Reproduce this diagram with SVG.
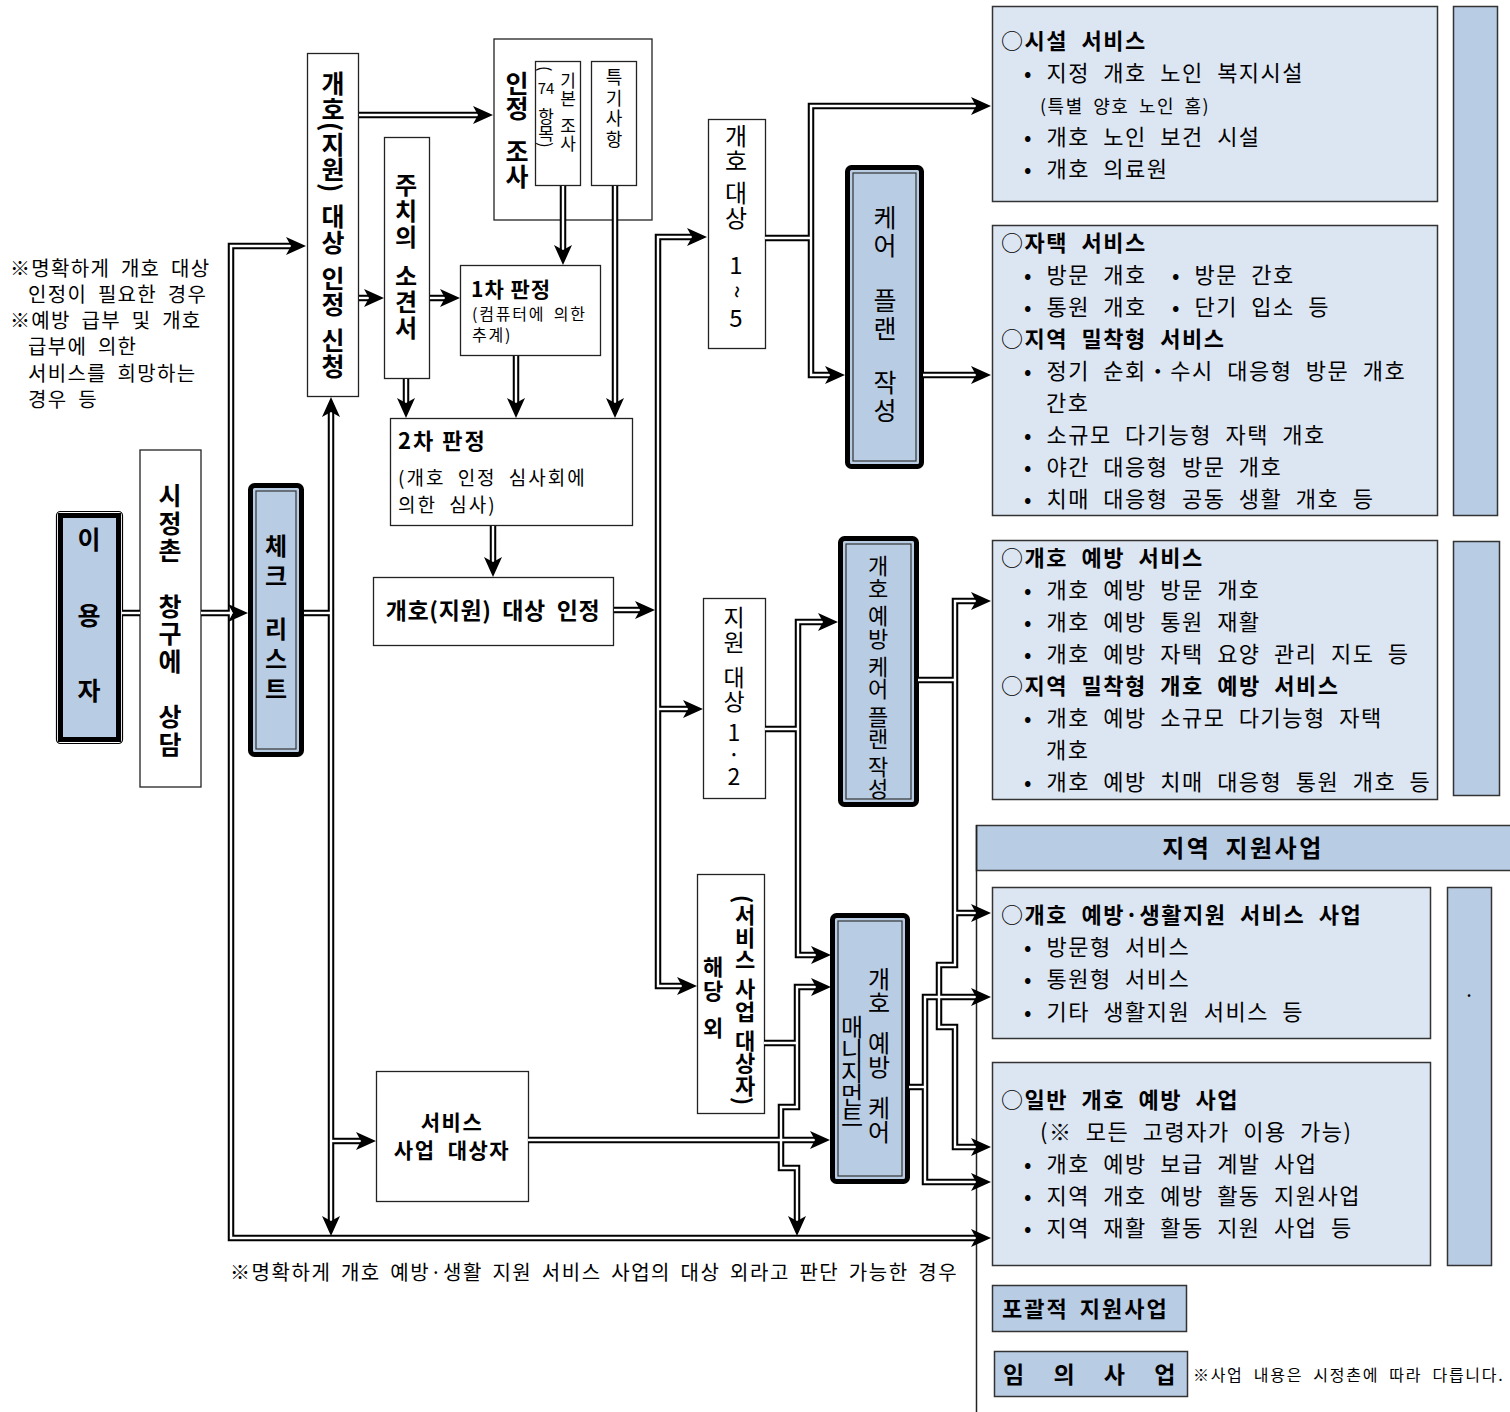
<svg xmlns="http://www.w3.org/2000/svg" width="1510" height="1412" viewBox="0 0 1510 1412">
<style>
text{font-family:"Noto Sans CJK KR","Noto Sans CJK SC",sans-serif;fill:#000}
.b{font-weight:bold}
.v{writing-mode:vertical-rl}
.up{writing-mode:vertical-rl;text-orientation:upright}
.box{fill:#fff;stroke:#222;stroke-width:1.3}
.lb{fill:#dce6f2;stroke:#333;stroke-width:1.5}
.db{fill:#b8cce4;stroke:#333;stroke-width:1.5}
.tb{fill:#b8cce4;stroke:#000;stroke-width:5}
.tbi{fill:none;stroke:#333;stroke-width:1.2}
.blk{fill:none;stroke:#000;stroke-width:6.5;stroke-linejoin:miter}
.wht{fill:none;stroke:#fff;stroke-width:2.4;stroke-linejoin:miter}
.r{font-size:22px;word-spacing:7px;letter-spacing:1.5px}
.n{font-size:20px;word-spacing:5px;letter-spacing:1.3px}
.ah{fill:#000}
</style>
<defs>
<path id="ah" d="M-20,-9 L0,0 L-20,9 L-15,0 Z"/>
<path id="p1" d="M292,246 L231,246 L231,1238 L978,1238"/>
<path id="p2" d="M122,613 L140,613"/>
<path id="p3" d="M201,613 L235,613"/>
<path id="p4" d="M304,613 L331,613"/>
<path id="p5" d="M331,410 L331,1223"/>
<path id="p6" d="M331,1141 L363,1141"/>
<path id="p7" d="M528,1140 L817,1140"/>
<path id="p8" d="M359,115 L480,115"/>
<path id="p9" d="M359,298 L371,298"/>
<path id="p10" d="M430,298 L447,298"/>
<path id="p11" d="M563,186 L563,252"/>
<path id="p12" d="M615,186 L615,405"/>
<path id="p13" d="M406,379 L406,405"/>
<path id="p14" d="M516,356 L516,405"/>
<path id="p15" d="M493,526 L493,564"/>
<path id="p16" d="M614,610 L642,610"/>
<path id="p17" d="M694,237 L658,237 L658,986 L684,986"/>
<path id="p18" d="M658,709 L690,709"/>
<path id="p19" d="M765,238 L811,238"/>
<path id="p20" d="M978,106 L811,106 L811,375 L832,375"/>
<path id="p21" d="M923,375 L978,375"/>
<path id="p22" d="M765,729 L798,729"/>
<path id="p23" d="M825,622 L798,622 L798,955 L818,955"/>
<path id="p24" d="M918,680 L955,680"/>
<path id="p25" d="M978,601 L955,601 L955,965 L939,965 L939,1027 L955,1027 L955,1147 L978,1147"/>
<path id="p26" d="M955,913 L978,913"/>
<path id="p27" d="M764,1043 L797,1043"/>
<path id="p28" d="M818,987 L797,987 L797,1107 L781,1107 L781,1168 L797,1168 L797,1223"/>
<path id="p29" d="M909,1087 L925,1087"/>
<path id="p30" d="M978,997 L925,997 L925,1182 L978,1182"/>
</defs>

<g id="user">
<rect x="56.5" y="511.5" width="66" height="232" rx="4" fill="none" stroke="#000" stroke-width="1.2"/>
<rect x="60.5" y="515.5" width="58" height="224" class="tb"/>
<text class="v b" x="89" y="527" style="font-size:25px;word-spacing:45px">이 용 자</text>
</g>
<g id="window">
<rect x="140" y="450" width="61" height="337" class="box"/>
<text class="v b" x="170" y="483" style="font-size:25px;letter-spacing:2.5px;word-spacing:20px">시정촌 창구에 상담</text>
</g>
<g id="checklist">
<rect x="250.5" y="485.5" width="51" height="269" rx="4" class="tb"/>
<rect x="256" y="491" width="40" height="258" class="tbi"/>
<text class="v b" x="276" y="534" style="font-size:24px;letter-spacing:6px;word-spacing:11.6px">체크 리스트</text>
</g>
<g id="apply">
<rect x="307.5" y="53.5" width="51" height="343" class="box"/>
<text class="v b" x="333" y="71" style="font-size:25px;letter-spacing:0.5px;word-spacing:5px">개호(지원) 대상 인정 신청</text>
</g>
<g id="survey">
<rect x="494" y="39" width="158" height="181" class="box"/>
<text class="v b" x="517" y="71" style="font-size:25px;word-spacing:12px">인정 조사</text>
<rect x="535.5" y="61.5" width="45" height="124" class="box"/>
<text class="v" x="568" y="72" style="font-size:17px;letter-spacing:1px;word-spacing:4px">기본 조사</text>
<text class="v" x="546" y="66" style="font-size:16px">(</text>
<text x="546" y="94" text-anchor="middle" style="font-size:15px">74</text>
<text class="v" x="546" y="108" style="font-size:17px">항목)</text>
<rect x="591.5" y="61.5" width="45" height="124" class="box"/>
<text class="v" x="614" y="68" style="font-size:18px;letter-spacing:2.7px">특기사항</text>
</g>
<g id="doctor">
<rect x="384.5" y="137.5" width="45" height="241" class="box"/>
<text class="v b" x="406" y="173" style="font-size:24px;letter-spacing:2px;word-spacing:5.6px">주치의 소견서</text>
</g>
<g id="first">
<rect x="460.5" y="265.5" width="140" height="90" class="box"/>
<text class="b" x="471" y="297" style="font-size:21px;letter-spacing:1px">1차 판정</text>
<text x="472" y="320" style="font-size:16px;word-spacing:3px;letter-spacing:1.8px">(컴퓨터에 의한<tspan x="472" y="341">추계)</tspan></text>
</g>
<g id="second">
<rect x="390.5" y="418.5" width="242" height="107" class="box"/>
<text class="b" x="398" y="449" style="font-size:22px;letter-spacing:2px">2차 판정</text>
<text x="398" y="485" style="font-size:19px;word-spacing:6px;letter-spacing:2px">(개호 인정 심사회에<tspan x="398" y="512">의한 심사)</tspan></text>
</g>
<g id="certified">
<rect x="373.5" y="577.5" width="240" height="68" class="box"/>
<text class="b" x="493" y="619" text-anchor="middle" style="font-size:23px;word-spacing:5px;letter-spacing:0.6px">개호(지원) 대상 인정</text>
</g>
<g id="care15">
<rect x="708.5" y="119.5" width="57" height="229" class="box"/>
<text class="v" x="736" y="124" style="font-size:24px;letter-spacing:1px;word-spacing:1px">개호 대상</text>
<text x="736" y="274" text-anchor="middle" style="font-size:24px">1</text>
<text transform="translate(736,292) rotate(90)" y="8" text-anchor="middle" style="font-size:24px">~</text>
<text x="736" y="327" text-anchor="middle" style="font-size:24px">5</text>
</g>
<g id="careplan">
<rect x="847.5" y="167.5" width="74" height="299" rx="4" class="tb"/>
<rect x="853" y="173" width="63" height="288" class="tbi"/>
<text class="v" x="885" y="205" style="font-size:25px;letter-spacing:3px;word-spacing:18px">케어 플랜 작성</text>
</g>
<g id="support12">
<rect x="703.5" y="598.5" width="62" height="200" class="box"/>
<text class="v" x="734" y="606" style="font-size:23px;letter-spacing:1.5px;word-spacing:4px">지원 대상</text>
<text class="up" x="734" y="721" style="font-size:23px;letter-spacing:-1px">1·2</text>
</g>
<g id="prevplan">
<rect x="840.5" y="538.5" width="76" height="266" rx="4" class="tb"/>
<rect x="846" y="544" width="65" height="255" class="tbi"/>
<text class="v" x="878" y="555" style="font-size:22px;letter-spacing:0.4px">개호 예방 케어 플랜 작성</text>
</g>
<g id="other">
<rect x="697.5" y="874.5" width="67" height="239" class="box"/>
<text class="v b" x="745" y="895" style="font-size:22px;letter-spacing:0.5px;word-spacing:1px">(서비스 사업 대상자)</text>
<text class="v b" x="713" y="956" style="font-size:22px;letter-spacing:2px;word-spacing:6px">해당 외</text>
</g>
<g id="management">
<rect x="832.5" y="915.5" width="75" height="266" rx="4" class="tb"/>
<rect x="838" y="921" width="64" height="255" class="tbi"/>
<text class="v" x="879" y="967" style="font-size:24px;word-spacing:11px">개호 예방 케어</text>
<text class="v" x="852" y="1015" style="font-size:24px;letter-spacing:-1.5px">매니지먼트</text>
</g>
<g id="svctarget">
<rect x="376.5" y="1071.5" width="152" height="130" class="box"/>
<text class="b" x="452" y="1130" text-anchor="middle" style="font-size:21px;letter-spacing:1.5px;word-spacing:6px">서비스<tspan x="452" y="1158">사업 대상자</tspan></text>
</g>

<g id="notes">
<text class="n" x="10" y="276">※명확하게 개호 대상</text>
<text class="n" x="28" y="302">인정이 필요한 경우</text>
<text class="n" x="10" y="328">※예방 급부 및 개호</text>
<text class="n" x="28" y="354">급부에 의한</text>
<text class="n" x="28" y="381">서비스를 희망하는</text>
<text class="n" x="28" y="407">경우 등</text>
<text class="n" x="230" y="1280" style="word-spacing:3.5px;letter-spacing:1.55px">※명확하게 개호 예방·생활 지원 서비스 사업의 대상 외라고 판단 가능한 경우</text>
</g>

<g id="facility">
<rect x="992.5" y="6.5" width="445" height="195" class="lb"/>
<text class="r" x="1001" y="49">○<tspan class="b">시설 서비스</tspan></text>
<text class="r" x="1024" y="81">• 지정 개호 노인 복지시설</text>
<text x="1040" y="113" style="font-size:18px;word-spacing:4px;letter-spacing:1.5px">(특별 양호 노인 홈)</text>
<text class="r" x="1024" y="145">• 개호 노인 보건 시설</text>
<text class="r" x="1024" y="177">• 개호 의료원</text>
</g>
<g id="home">
<rect x="992.5" y="225.5" width="445" height="290" class="lb"/>
<text class="r" x="1001" y="251">○<tspan class="b">자택 서비스</tspan></text>
<text class="r" x="1024" y="283">• 방문 개호 <tspan x="1172">• 방문 간호</tspan></text>
<text class="r" x="1024" y="315">• 통원 개호 <tspan x="1172">• 단기 입소 등</tspan></text>
<text class="r" x="1001" y="347">○<tspan class="b">지역 밀착형 서비스</tspan></text>
<text class="r" x="1024" y="379">• 정기 순회・수시 대응형 방문 개호</text>
<text class="r" x="1046" y="411">간호</text>
<text class="r" x="1024" y="443">• 소규모 다기능형 자택 개호</text>
<text class="r" x="1024" y="475">• 야간 대응형 방문 개호</text>
<text class="r" x="1024" y="507">• 치매 대응형 공동 생활 개호 등</text>
</g>
<rect id="col1" x="1453.5" y="6.5" width="44" height="509" class="db"/>
<g id="prevsvc">
<rect x="992.5" y="540.5" width="445" height="259" class="lb"/>
<text class="r" x="1001" y="566">○<tspan class="b">개호 예방 서비스</tspan></text>
<text class="r" x="1024" y="598">• 개호 예방 방문 개호</text>
<text class="r" x="1024" y="630">• 개호 예방 통원 재활</text>
<text class="r" x="1024" y="662">• 개호 예방 자택 요양 관리 지도 등</text>
<text class="r" x="1001" y="694">○<tspan class="b">지역 밀착형 개호 예방 서비스</tspan></text>
<text class="r" x="1024" y="726">• 개호 예방 소규모 다기능형 자택</text>
<text class="r" x="1046" y="758">개호</text>
<text class="r" x="1024" y="790">• 개호 예방 치매 대응형 통원 개호 등</text>
</g>
<rect id="col2" x="1453.5" y="541.5" width="46" height="254" class="db"/>
<g id="regional">
<rect x="976.5" y="825.5" width="540" height="45" class="db"/>
<line x1="976.5" y1="825" x2="976.5" y2="1412" stroke="#222" stroke-width="1.5"/>
<text class="b" x="1243" y="857" text-anchor="middle" style="font-size:24px;word-spacing:6px;letter-spacing:2.5px">지역 지원사업</text>
</g>
<g id="lifesupport">
<rect x="992.5" y="887.5" width="438" height="151" class="lb"/>
<text class="r" x="1001" y="923">○<tspan class="b">개호 예방·생활지원 서비스 사업</tspan></text>
<text class="r" x="1024" y="955">• 방문형 서비스</text>
<text class="r" x="1024" y="987">• 통원형 서비스</text>
<text class="r" x="1024" y="1020">• 기타 생활지원 서비스 등</text>
</g>
<g id="general">
<rect x="992.5" y="1062.5" width="438" height="203" class="lb"/>
<text class="r" x="1001" y="1108">○<tspan class="b">일반 개호 예방 사업</tspan></text>
<text class="r" x="1040" y="1140">(※ 모든 고령자가 이용 가능)</text>
<text class="r" x="1024" y="1172">• 개호 예방 보급 계발 사업</text>
<text class="r" x="1024" y="1204">• 지역 개호 예방 활동 지원사업</text>
<text class="r" x="1024" y="1236">• 지역 재활 활동 지원 사업 등</text>
</g>
<g id="col3">
<rect x="1447.5" y="887.5" width="44" height="378" class="db"/>
<text x="1469" y="1003" text-anchor="middle" style="font-size:20px">·</text>
</g>
<g id="comprehensive">
<rect x="992.5" y="1285.5" width="194" height="46" class="db"/>
<text class="b" x="1002" y="1317" style="font-size:22px;word-spacing:4px;letter-spacing:2px">포괄적 지원사업</text>
</g>
<g id="optional">
<rect x="994.5" y="1351.5" width="193" height="45" class="db"/>
<text class="b" x="1003" y="1383" style="font-size:23px;word-spacing:24px">임 의 사 업</text>
<text x="1193" y="1381" style="font-size:16px;word-spacing:5px;letter-spacing:1.7px">※사업 내용은 시정촌에 따라 다릅니다.</text>
</g>

<g id="connectors">
<g class="blk">
<use href="#p1"/><use href="#p2"/><use href="#p3"/><use href="#p4"/><use href="#p5"/><use href="#p6"/><use href="#p7"/><use href="#p8"/><use href="#p9"/><use href="#p10"/><use href="#p11"/><use href="#p12"/><use href="#p13"/><use href="#p14"/><use href="#p15"/><use href="#p16"/><use href="#p17"/><use href="#p18"/><use href="#p19"/><use href="#p20"/><use href="#p21"/><use href="#p22"/><use href="#p23"/><use href="#p24"/><use href="#p25"/><use href="#p26"/><use href="#p27"/><use href="#p28"/><use href="#p29"/><use href="#p30"/>
</g>
<g class="wht">
<use href="#p1"/><use href="#p2"/><use href="#p3"/><use href="#p4"/><use href="#p5"/><use href="#p6"/><use href="#p7"/><use href="#p8"/><use href="#p9"/><use href="#p10"/><use href="#p11"/><use href="#p12"/><use href="#p13"/><use href="#p14"/><use href="#p15"/><use href="#p16"/><use href="#p17"/><use href="#p18"/><use href="#p19"/><use href="#p20"/><use href="#p21"/><use href="#p22"/><use href="#p23"/><use href="#p24"/><use href="#p25"/><use href="#p26"/><use href="#p27"/><use href="#p28"/><use href="#p29"/><use href="#p30"/>
</g>
<g class="ah">
<use href="#ah" transform="translate(306,246)"/>
<use href="#ah" transform="translate(991,1238)"/>
<use href="#ah" transform="translate(248,613)"/>
<use href="#ah" transform="translate(331,397) rotate(-90)"/>
<use href="#ah" transform="translate(331,1236) rotate(90)"/>
<use href="#ah" transform="translate(376,1141)"/>
<use href="#ah" transform="translate(830,1140)"/>
<use href="#ah" transform="translate(493,115)"/>
<use href="#ah" transform="translate(384,298)"/>
<use href="#ah" transform="translate(460,298)"/>
<use href="#ah" transform="translate(563,265) rotate(90)"/>
<use href="#ah" transform="translate(615,418) rotate(90)"/>
<use href="#ah" transform="translate(406,418) rotate(90)"/>
<use href="#ah" transform="translate(516,418) rotate(90)"/>
<use href="#ah" transform="translate(493,577) rotate(90)"/>
<use href="#ah" transform="translate(655,610)"/>
<use href="#ah" transform="translate(707,237)"/>
<use href="#ah" transform="translate(697,986)"/>
<use href="#ah" transform="translate(703,709)"/>
<use href="#ah" transform="translate(991,106)"/>
<use href="#ah" transform="translate(845,375)"/>
<use href="#ah" transform="translate(991,375)"/>
<use href="#ah" transform="translate(838,622)"/>
<use href="#ah" transform="translate(831,955)"/>
<use href="#ah" transform="translate(991,601)"/>
<use href="#ah" transform="translate(991,1147)"/>
<use href="#ah" transform="translate(991,913)"/>
<use href="#ah" transform="translate(831,987)"/>
<use href="#ah" transform="translate(797,1236) rotate(90)"/>
<use href="#ah" transform="translate(991,997)"/>
<use href="#ah" transform="translate(991,1182)"/>
</g>
</g>
</svg>
